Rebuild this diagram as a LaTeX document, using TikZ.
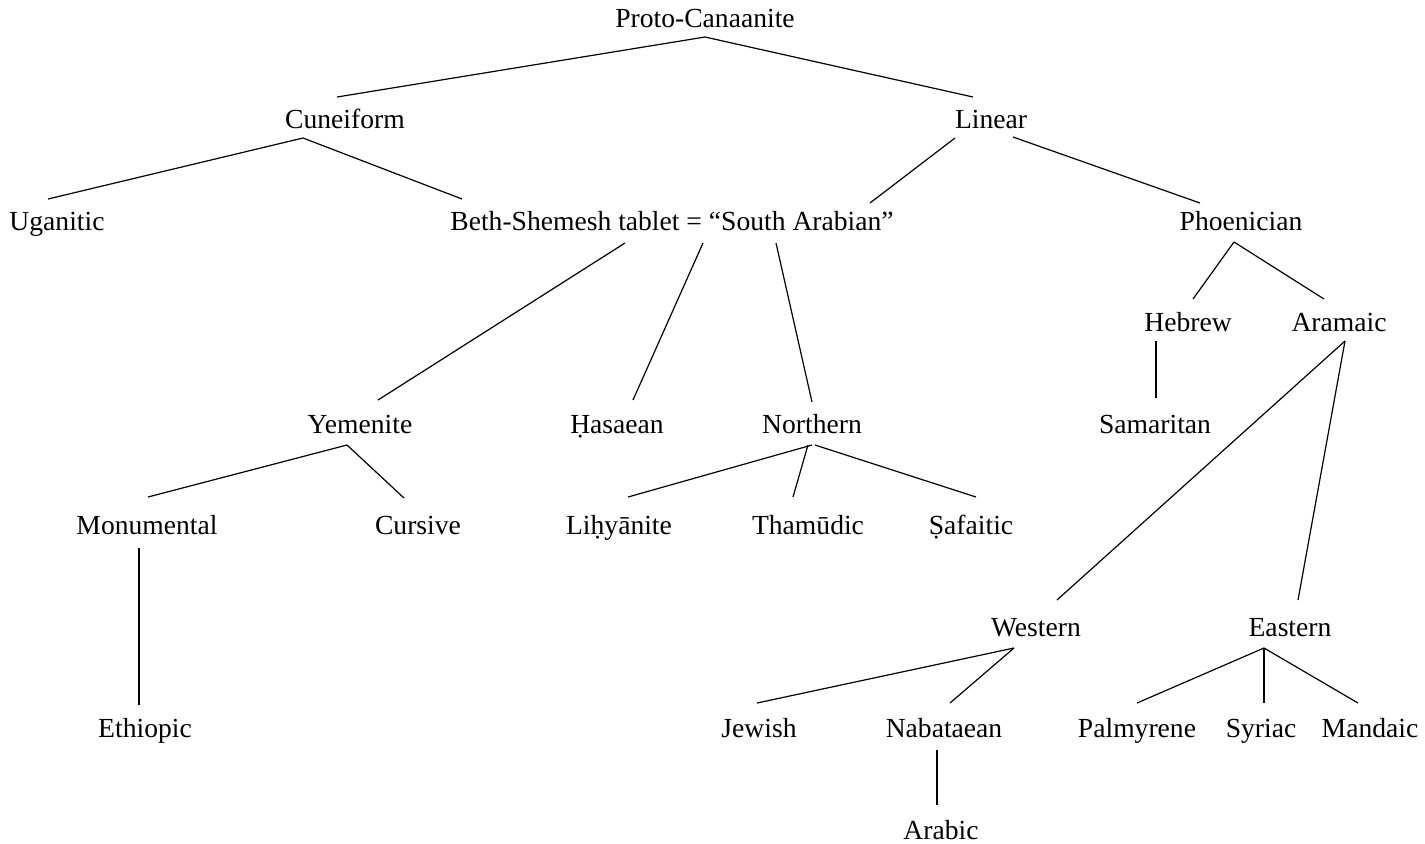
\documentclass[tikz,border=0pt]{standalone}
\usepackage{fontspec}
\setmainfont{Liberation Serif}
\usetikzlibrary{calc}
\tikzset{
  lbl/.style={anchor=base, inner sep=0pt, font=\fontsize{13.8}{16}\selectfont},
  branch/.style={draw=black, line width=0.6pt}
}
\newcommand{\link}[4]{\draw[branch] ($(#1.base)+(#2)$) -- ($(#3.base)+(#4)$);}
\begin{document}
\begin{tikzpicture}[x=0.5pt, y=-0.5pt]
\useasboundingbox (0,0) rectangle (1425,843);
\node[lbl] (proto) at (705,27) {Proto-Canaanite};
\node[lbl] (cun) at (345,128) {Cuneiform};
\node[lbl] (lin) at (991,128) {Linear};
\node[lbl] (uga) at (57,230) {Uganitic};
\node[lbl] (beth) at (672,230) {Beth-Shemesh tablet = ``South Arabian''};
\node[lbl] (phoe) at (1241,230) {Phoenician};
\node[lbl] (heb) at (1188,331) {Hebrew};
\node[lbl] (ara) at (1339,331) {Aramaic};
\node[lbl] (yem) at (360,433) {Yemenite};
\node[lbl] (has) at (617,433) {Ḥasaean};
\node[lbl] (nor) at (812,433) {Northern};
\node[lbl] (sam) at (1155,433) {Samaritan};
\node[lbl] (mon) at (147,534) {Monumental};
\node[lbl] (cur) at (418,534) {Cursive};
\node[lbl] (lih) at (619,534) {Liḥyānite};
\node[lbl] (tha) at (808,534) {Thamūdic};
\node[lbl] (saf) at (971,534) {Ṣafaitic};
\node[lbl] (wes) at (1036,636) {Western};
\node[lbl] (eas) at (1290,636) {Eastern};
\node[lbl] (eth) at (145,737) {Ethiopic};
\node[lbl] (jew) at (759,737) {Jewish};
\node[lbl] (nab) at (944,737) {Nabataean};
\node[lbl] (pal) at (1137,737) {Palmyrene};
\node[lbl] (syr) at (1261,737) {Syriac};
\node[lbl] (man) at (1370,737) {Mandaic};
\node[lbl] (arb) at (941,839) {Arabic};
\link{proto}{0,10}{cun}{-8,-31}
\link{proto}{0,10}{lin}{-18,-31}
\link{cun}{-42,10}{uga}{-9,-31}
\link{cun}{-42,10}{beth}{-210,-31}
\link{lin}{-36,10}{beth}{198,-27}
\link{lin}{22,9}{phoe}{-41,-27}
\link{beth}{-47,13}{yem}{18,-33}
\link{beth}{31,13}{has}{16,-33}
\link{beth}{104,13}{nor}{0,-31}
\link{phoe}{-7,12}{heb}{5,-32}
\link{phoe}{-7,12}{ara}{-15,-32}
\link{heb}{-32,10}{sam}{1,-35}
\link{ara}{6,10}{wes}{21,-36}
\link{ara}{6,10}{eas}{8,-36}
\link{yem}{-13,12}{mon}{1,-37}
\link{yem}{-13,12}{cur}{-14,-36}
\link{nor}{0,12}{lih}{9,-37}
\link{nor}{-4,12}{tha}{-15,-37}
\link{nor}{3,12}{saf}{5,-37}
\link{mon}{-8,14}{eth}{-6,-32}
\link{wes}{-22,12}{jew}{-2,-34}
\link{wes}{-22,12}{nab}{6,-34}
\link{eas}{-26,12}{pal}{0,-34}
\link{eas}{-26,12}{syr}{3,-34}
\link{eas}{-26,12}{man}{-12,-34}
\link{nab}{-7,13}{arb}{-4,-34}
\end{tikzpicture}
\end{document}
